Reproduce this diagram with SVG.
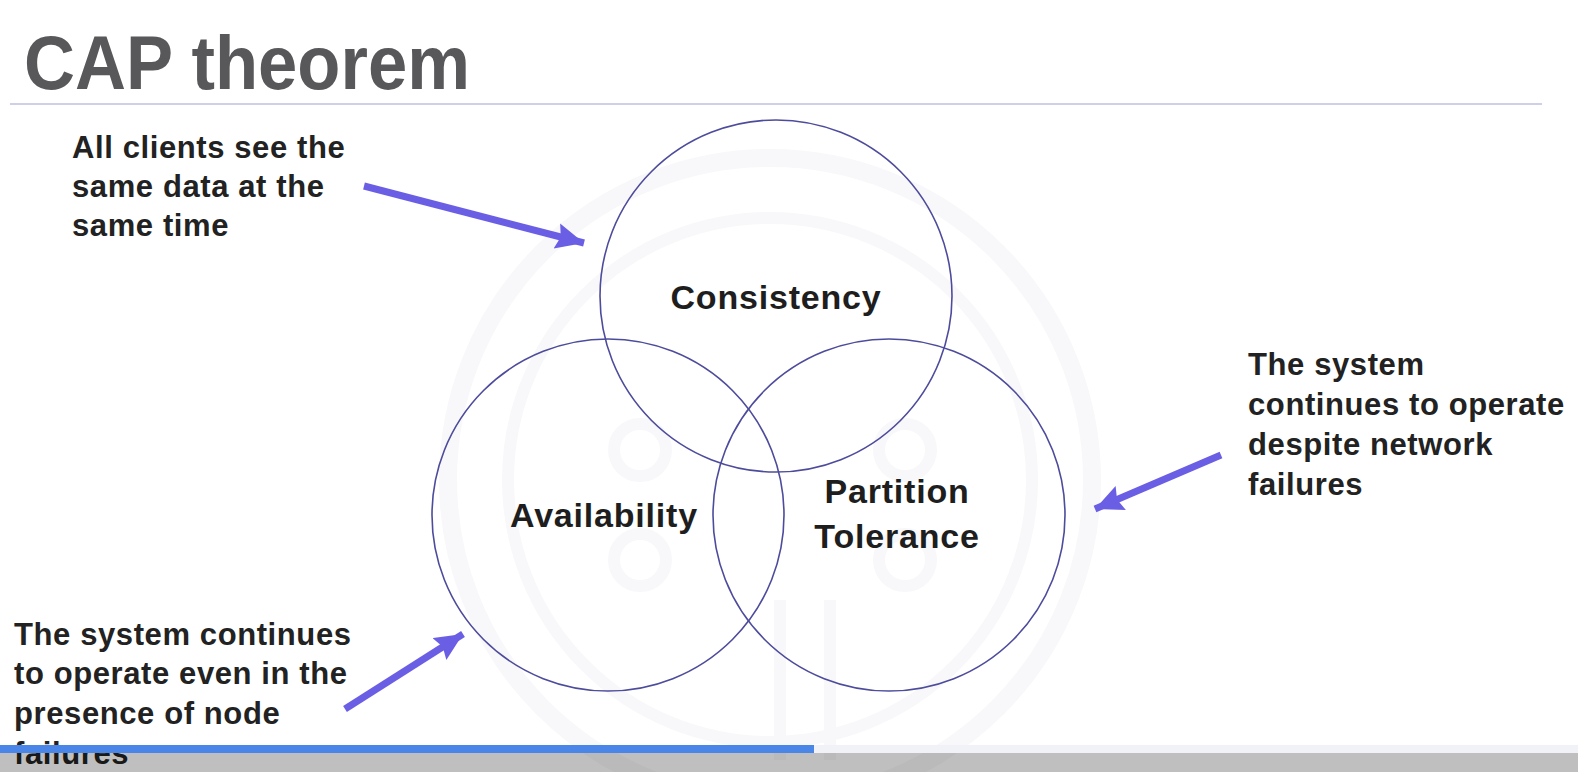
<svg xmlns="http://www.w3.org/2000/svg" width="1578" height="772" viewBox="0 0 1578 772">
  <style>
    .title { font-family: "Liberation Sans", Arial, sans-serif; font-weight: bold; fill: #58585b; }
    .note { font-family: "Liberation Sans", Arial, sans-serif; font-weight: bold; font-size: 31px; letter-spacing: 0.6px; fill: #222222; }
    .label { font-family: "Liberation Sans", Arial, sans-serif; font-weight: bold; font-size: 34px; letter-spacing: 0.8px; fill: #1e1e1e; text-anchor: middle; }
    .set { fill: none; stroke: #4d4b9c; stroke-width: 1.6; }
    .arrow { stroke: #6a5fe4; stroke-width: 7; stroke-linecap: butt; fill: none; marker-end: url(#head); }
    .mark { fill: none; stroke: #f8f8fa; }
  </style>
  <defs>
    <marker id="head" markerUnits="userSpaceOnUse" markerWidth="34" markerHeight="34" refX="28" refY="13" orient="auto">
      <path d="M0,0 L28,13 L0,26 L4,13 Z" fill="#6a5fe4"/>
    </marker>
  </defs>

  <rect width="1578" height="772" fill="#ffffff"/>

  <!-- faint background emblem -->
  <g id="emblem">
    <circle class="mark" cx="770" cy="480" r="322" stroke-width="18"/>
    <circle class="mark" cx="770" cy="480" r="262" stroke-width="12"/>
    <circle class="mark" cx="640" cy="450" r="26" stroke-width="12"/>
    <circle class="mark" cx="640" cy="560" r="26" stroke-width="12"/>
    <circle class="mark" cx="905" cy="450" r="26" stroke-width="12"/>
    <circle class="mark" cx="905" cy="560" r="26" stroke-width="12"/>
    <path class="mark" d="M780,600 V760 M830,600 V760" stroke-width="12"/>
  </g>

  <!-- heading -->
  <g id="heading">
    <text class="title" x="24" y="89" font-size="76" textLength="446" lengthAdjust="spacingAndGlyphs">CAP theorem</text>
    <line x1="10" y1="104" x2="1542" y2="104" stroke="#cfcfe8" stroke-width="2"/>
  </g>

  <!-- Venn sets -->
  <g id="consistency">
    <circle class="set" cx="776" cy="296" r="176"/>
    <text class="label" x="776" y="309">Consistency</text>
  </g>
  <g id="availability">
    <circle class="set" cx="608" cy="515" r="176"/>
    <text class="label" x="604" y="527">Availability</text>
  </g>
  <g id="partition">
    <circle class="set" cx="889" cy="515" r="176"/>
    <text class="label" x="897" y="503">Partition</text>
    <text class="label" x="897" y="548">Tolerance</text>
  </g>

  <!-- callout notes -->
  <g id="note-consistency">
    <text class="note" x="72" y="158">All clients see the</text>
    <text class="note" x="72" y="197">same data at the</text>
    <text class="note" x="72" y="236">same time</text>
  </g>
  <g id="note-partition">
    <text class="note" x="1248" y="375">The system</text>
    <text class="note" x="1248" y="415">continues to operate</text>
    <text class="note" x="1248" y="455">despite network</text>
    <text class="note" x="1248" y="495">failures</text>
  </g>
  <g id="note-availability">
    <text class="note" x="14" y="645">The system continues</text>
    <text class="note" x="14" y="684">to operate even in the</text>
    <text class="note" x="14" y="724">presence of node</text>
    <text class="note" x="14" y="764">failures</text>
  </g>

  <!-- connectors -->
  <g id="connectors">
    <line class="arrow" x1="364" y1="186" x2="584" y2="243"/>
    <line class="arrow" x1="1221" y1="455" x2="1095" y2="509"/>
    <line class="arrow" x1="345" y1="709" x2="463" y2="634"/>
  </g>

  <!-- player bar -->
  <g id="player-bar">
    <rect x="0" y="753" width="1578" height="19" fill="#000000" fill-opacity="0.25"/>
    <rect x="0" y="745" width="1578" height="8" fill="#f1f2f8"/>
    <rect x="0" y="745" width="814" height="8" fill="#4a86e8"/>
  </g>
</svg>
